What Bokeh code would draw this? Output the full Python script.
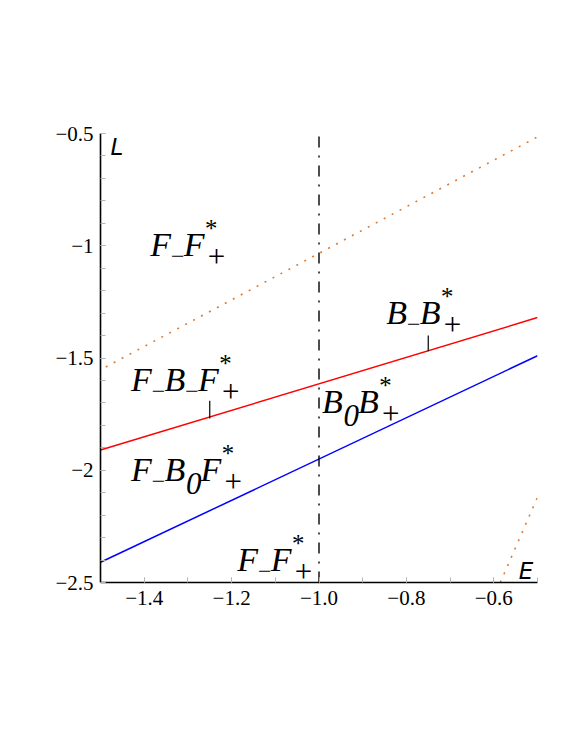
from bokeh.plotting import figure
from bokeh.models import Range1d, FixedTicker, CustomJSTickFormatter, ColumnDataSource
from bokeh.core.properties import value
from bokeh.embed import file_html
from bokeh.resources import INLINE

# ---------------- data ----------------
E_span = [-1.5, -0.5]
red_L = [-1.91, -1.32]
blue_L = [-2.41, -1.49]
orange_hi_E = [-1.488, -0.5]
orange_hi_L = [-1.54, -0.515]
orange_lo_E = [-0.585, -0.5]
orange_lo_L = [-2.5, -2.12]
vline_E = [-1.0, -1.0]
vline_L = [-2.5, -0.5]
pointer1_E = [-1.25, -1.25]
pointer1_L = [-1.77, -1.69]
pointer2_E = [-0.75, -0.75]
pointer2_L = [-1.47, -1.40]

x_ticks = [-1.4, -1.2, -1.0, -0.8, -0.6]
x_minor = [-1.5, -1.4, -1.3, -1.2, -1.1, -1.0, -0.9, -0.8, -0.7, -0.6, -0.5]
y_ticks = [-2.5, -2.0, -1.5, -1.0, -0.5]
y_minor = [-2.5, -2.4, -2.3, -2.2, -2.1, -2.0, -1.9, -1.8, -1.7, -1.6, -1.5,
           -1.4, -1.3, -1.2, -1.1, -1.0, -0.9, -0.8, -0.7, -0.6, -0.5]

# region labels: tokens and anchor (left, baseline) in data coords
label_tokens = [
    ["F", "_-", "F", "*+"],
    ["B", "_-", "B", "*+"],
    ["F", "_-", "B", "_-", "F", "*+"],
    ["F", "_-", "B", "_0", "F", "*+"],
    ["B", "_0", "B", "*+"],
    ["F", "_-", "F", "*+"],
]
label_E = [-1.386, -0.846, -1.430, -1.430, -0.993, -1.187]
label_L = [-1.043, -1.346, -1.645, -2.046, -1.741, -2.447]

# ---------------- figure ----------------
p = figure(width=573, height=744, output_backend="svg", toolbar_location=None,
           x_range=Range1d(-1.5, -0.5), y_range=Range1d(-2.5, -0.5),
           min_border_left=100, min_border_right=36, min_border_top=133,
           min_border_bottom=162)
p.outline_line_color = None
p.xgrid.visible = False
p.ygrid.visible = False
p.background_fill_color = "white"
p.border_fill_color = "white"

p.xaxis.ticker = FixedTicker(ticks=x_ticks, minor_ticks=x_minor)
p.yaxis.ticker = FixedTicker(ticks=y_ticks, minor_ticks=y_minor)
p.xaxis.formatter = CustomJSTickFormatter(
    code="return (tick < 0 ? '\u2212' : '') + Math.abs(tick).toFixed(1);")
p.yaxis.formatter = CustomJSTickFormatter(
    code="return (tick < 0 ? '\u2212' : '') + String(Math.abs(Math.round(tick*10)/10));")

for ax in (p.xaxis[0], p.yaxis[0]):
    ax.axis_line_color = "black"
    ax.axis_line_width = 1.6
    ax.major_tick_in = 5
    ax.major_tick_out = 0
    ax.minor_tick_in = 5
    ax.minor_tick_out = 0
    ax.major_tick_line_color = "#b4b4b4"
    ax.minor_tick_line_color = "#b4b4b4"
    ax.major_label_text_font = "Liberation Serif"
    ax.major_label_text_font_size = "21px"
    ax.major_label_text_color = "black"
p.xaxis.major_label_standoff = 8
p.yaxis.major_label_standoff = 7

# ---------------- curves ----------------
p.line(orange_hi_E, orange_hi_L, line_color="#e07a2e", line_width=1.6, line_dash="2 7")
p.line(orange_lo_E, orange_lo_L, line_color="#e07a2e", line_width=1.6, line_dash="2 7")
p.line(E_span, red_L, line_color="#ff0000", line_width=1.5)
p.line(E_span, blue_L, line_color="#0000ff", line_width=1.5)
p.line(vline_E, vline_L, line_color="black", line_width=1.4, line_dash="11 8 2 8")
p.line(pointer1_E, pointer1_L, line_color="black", line_width=1.2)
p.line(pointer2_E, pointer2_L, line_color="black", line_width=1.2)

# ---------------- region labels (math-like, built from pieces) ----------------
MAIN = 34
SHIFT = -11  # screen-pixel correction of the rendered text baseline
groups = {}


def add_piece(size, E, L, txt, dx, dy):
    g = groups.setdefault(size, dict(x=[], y=[], text=[], xo=[], yo=[]))
    g["x"].append(E)
    g["y"].append(L)
    g["text"].append(txt)
    g["xo"].append(dx)
    g["yo"].append(dy + SHIFT)


for toks, E, L in zip(label_tokens, label_E, label_L):
    cur = 0.0
    for t in toks:
        if t in ("F", "B"):
            add_piece(MAIN, E, L, t, cur, 0)
            cur += 21
        elif t == "_-":
            add_piece(24, E, L, "\u2212", cur - 2, 12)
            cur += 12.5
        elif t == "_0":
            add_piece(31, E, L, "0", cur + 0.5, 14)
            cur += 15
        elif t == "*+":
            add_piece(25, E, L, "*", cur - 1, -16)
            add_piece(31, E, L, "+", cur + 1, 12)
            cur += 20

for size, g in groups.items():
    src = ColumnDataSource(g)
    p.text(x="x", y="y", text="text", x_offset="xo", y_offset="yo", source=src,
           text_font=value("Liberation Serif"), text_font_style="italic",
           text_font_size=value(f"{size}px"), text_color="black",
           text_align="left", text_baseline="alphabetic")

# axis name labels
p.text(x=[-1.477], y=[-0.598], text=["L"], text_font=value("DejaVu Sans"),
       y_offset=SHIFT + 2,
       text_font_style="italic", text_font_size=value("23px"), text_color="black",
       text_align="left", text_baseline="alphabetic")
p.text(x=[-0.543], y=[-2.487], text=["E"], text_font=value("DejaVu Sans"),
       y_offset=SHIFT + 2,
       text_font_style="italic", text_font_size=value("23px"), text_color="black",
       text_align="left", text_baseline="alphabetic")

open("out.html", "w").write(file_html(p, INLINE))
